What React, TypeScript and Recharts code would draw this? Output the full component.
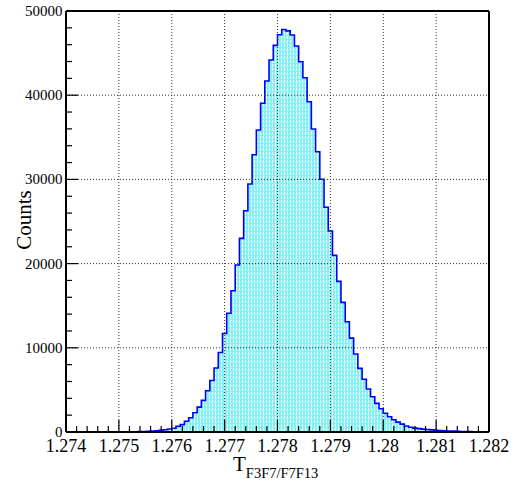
import React from "react";
import {
  Area,
  ComposedChart,
  ReferenceLine,
  XAxis,
  YAxis,
} from "recharts";

// histogram: 100 bins from 1.274 to 1.282
const binLow = 1.274;
const binWidth = 0.00008;
const counts = [
  0, 0, 0, 0, 1, 1, 1, 2, 2, 3,
  4, 5, 7, 10, 14, 20, 28, 40, 55, 75,
  100, 140, 200, 270, 350, 450, 680, 880, 1280, 1700,
  2280, 2960, 3760, 4900, 6120, 7600, 9440, 11700, 14100, 16780,
  19830, 23000, 26280, 29450, 32930, 35870, 39040, 41680, 44180, 45920,
  47180, 47800, 47640, 47150, 45840, 43980, 42080, 39230, 35990, 33290,
  30010, 26690, 23870, 20980, 17890, 15400, 13100, 11150, 9260, 7560,
  6260, 5100, 4190, 3400, 2770, 2220, 1820, 1460, 1170, 930,
  710, 570, 460, 400, 340, 290, 250, 210, 180, 150,
  125, 100, 80, 65, 50, 40, 32, 25, 20, 15,
];

const xMajor = [1.274, 1.275, 1.276, 1.277, 1.278, 1.279, 1.28, 1.281, 1.282];
const yMajor = [0, 10000, 20000, 30000, 40000, 50000];
const xLabels = ["1.274", "1.275", "1.276", "1.277", "1.278", "1.279", "1.28", "1.281", "1.282"];
const yLabels = ["0", "10000", "20000", "30000", "40000", "50000"];
const xTitle = "T";
const xTitleSub = "F3F7/F7F13";
const yTitle = "Counts";

const histData = counts.map((c, i) => ({ x: binLow + i * binWidth, y: c }));
histData.push({ x: binLow + counts.length * binWidth, y: counts[counts.length - 1] });

// 5 subdivisions between major ticks
const subdivide = (major: number[]) => {
  const out: number[] = [];
  for (let i = 0; i < major.length - 1; i++) {
    const step = (major[i + 1] - major[i]) / 5;
    for (let k = 0; k < 5; k++) out.push(major[i] + k * step);
  }
  out.push(major[major.length - 1]);
  return out;
};
const xTicks = subdivide(xMajor);
const yTicks = subdivide(yMajor);

const serif = "'Liberation Serif', 'Times New Roman', serif";

const majorIndex = (list: number[], v: number, eps: number) =>
  list.findIndex((m) => Math.abs(m - v) < eps);

const XTick = (props: any) => {
  const { x, y, payload } = props;
  const idx = majorIndex(xMajor, payload.value, 1e-7);
  const major = idx >= 0;
  return (
    <g>
      <line x1={x} x2={x} y1={y} y2={y - (major ? 12 : 6)} stroke="#000" strokeWidth={1.2} />
      {major && (
        <text x={x} y={y + 20} textAnchor="middle" fontFamily={serif} fontSize={18} fill="#000">
          {xLabels[idx]}
        </text>
      )}
    </g>
  );
};

const YTick = (props: any) => {
  const { x, y, payload } = props;
  const idx = majorIndex(yMajor, payload.value, 1e-3);
  const major = idx >= 0;
  return (
    <g>
      <line x1={x} x2={x + (major ? 12 : 6)} y1={y} y2={y} stroke="#000" strokeWidth={1.2} />
      {major && (
        <text x={x - 3.5} y={y + 5} textAnchor="end" fontFamily={serif} fontSize={15} fill="#000">
          {yLabels[idx]}
        </text>
      )}
    </g>
  );
};

export default function App() {
  return (
    <div
      style={{
        position: "absolute",
        left: 0,
        top: 0,
        width: 517,
        height: 483,
        background: "#fff",
      }}
    >
      <ComposedChart
        width={517}
        height={483}
        data={histData}
        margin={{ top: 11, right: 28, bottom: 0, left: 0 }}
      >
        <defs>
          <pattern id="hatch" x="0" y="0" width="3" height="4" patternUnits="userSpaceOnUse">
            <rect x="0" y="0" width="3" height="4" fill="#7ef4f6" />
            <rect x="2" y="0" width="1" height="3" fill="#ffffff" />
          </pattern>
        </defs>
        <XAxis
          dataKey="x"
          type="number"
          domain={[1.274, 1.282]}
          ticks={xTicks}
          interval={0}
          height={51}
          tickSize={0}
          tickMargin={0}
          tickLine={false}
          tick={<XTick />}
          axisLine={{ stroke: "#000", strokeWidth: 2 }}
          allowDataOverflow
        />
        <YAxis
          type="number"
          domain={[0, 50000]}
          ticks={yTicks}
          interval={0}
          width={66}
          tickSize={0}
          tickMargin={0}
          tickLine={false}
          tick={<YTick />}
          axisLine={{ stroke: "#000", strokeWidth: 2 }}
          allowDataOverflow
        />
        <Area
          type="stepAfter"
          dataKey="y"
          stroke="#0000ff"
          strokeWidth={1.6}
          fill="url(#hatch)"
          fillOpacity={1}
          baseValue={0}
          isAnimationActive={false}
          dot={false}
          activeDot={false}
        />
        {xMajor.slice(1, -1).map((v) => (
          <ReferenceLine key={"gx" + v} x={v} stroke="#333" strokeWidth={1} strokeDasharray="1 2" />
        ))}
        {yMajor.slice(1, -1).map((v) => (
          <ReferenceLine key={"gy" + v} y={v} stroke="#333" strokeWidth={1} strokeDasharray="1 2" />
        ))}
        <ReferenceLine y={50000} stroke="#000" strokeWidth={2} />
        <ReferenceLine x={1.282} stroke="#000" strokeWidth={2} />
      </ComposedChart>
      <svg
        width={517}
        height={483}
        style={{ position: "absolute", left: 0, top: 0, pointerEvents: "none" }}
      >
        <text
          transform="translate(31,220) rotate(-90)"
          textAnchor="middle"
          fontFamily={serif}
          fontSize={21}
          fill="#000"
        >
          {yTitle}
        </text>
        <text x={233} y={471} fontFamily={serif} fontSize={21} fill="#000">
          {xTitle}
          <tspan dy={7} fontSize={14.5}>
            {xTitleSub}
          </tspan>
        </text>
      </svg>
    </div>
  );
}
